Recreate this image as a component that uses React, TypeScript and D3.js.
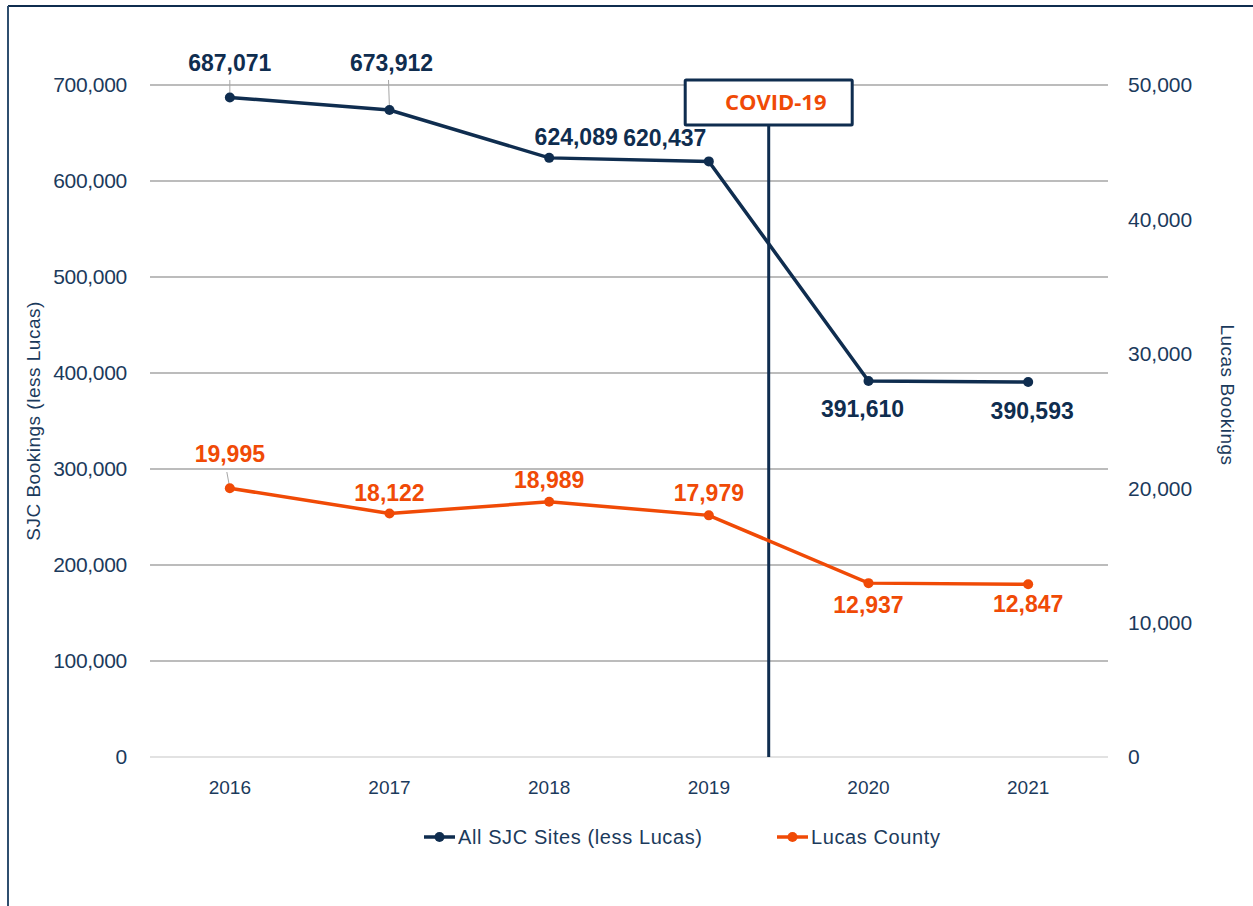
import React from 'react';
import { scaleBand, scaleLinear, line, format } from 'd3';

const years: string[] = ['2016', '2017', '2018', '2019', '2020', '2021'];
const sjcValues: number[] = [687071, 673912, 624089, 620437, 391610, 390593];
const lucasValues: number[] = [19995, 18122, 18989, 17979, 12937, 12847];
const leftTicks: number[] = [0, 100000, 200000, 300000, 400000, 500000, 600000, 700000];
const rightTicks: number[] = [0, 10000, 20000, 30000, 40000, 50000];
const seriesNames: string[] = ['All SJC Sites (less Lucas)', 'Lucas County'];
const covidYear = 2019.375;

// label offsets (dx, baseline dy) relative to each point
const sjcLabelOffsets: [number, number][] = [[0, -27], [2, -40], [27, -13], [-44, -16], [-6, 35], [4, 36]];
const lucasLabelOffsets: [number, number][] = [[0, -27], [0, -13], [0, -14], [0, -15], [0, 29], [0, 27]];

const dims = {
  width: 1253,
  height: 906,
  left: 150,
  right: 1108,
  top: 85,
  bottom: 757,
};

const NAVY = '#0f2d4f';
const ORANGE = '#f04a06';
const TEXT = '#1b3a5c';
const FONT = '"Liberation Sans", Arial, sans-serif';

export default function App() {
  const x = scaleBand<string>().domain(years).range([dims.left, dims.right]);
  const cx = (d: string) => x(d)! + x.bandwidth() / 2;
  const yearX = scaleLinear()
    .domain([2016, 2021])
    .range([cx('2016'), cx('2021')]);
  const yL = scaleLinear().domain([0, 700000]).range([dims.bottom, dims.top]);
  const yR = scaleLinear().domain([0, 50000]).range([dims.bottom, dims.top]);
  const fmt = format(',');

  const sjcLine = line<number>()
    .x((_, i) => cx(years[i]))
    .y(d => yL(d));
  const lucasLine = line<number>()
    .x((_, i) => cx(years[i]))
    .y(d => yR(d));

  const covidX = yearX(covidYear);
  const boxW = 167;
  const boxTop = 80;
  const boxH = 45;

  const legendY = 837;
  const legendItems = [
    { name: seriesNames[0], color: NAVY, x: 424 },
    { name: seriesNames[1], color: ORANGE, x: 777 },
  ];

  return (
    <svg
      width={dims.width}
      height={dims.height}
      style={{ position: 'absolute', left: 0, top: 0, background: '#fff' }}
      fontFamily={FONT}
    >
      {/* frame */}
      <line x1={8} x2={dims.width} y1={6} y2={6} stroke={NAVY} strokeWidth={2} />
      <line x1={8} x2={8} y1={6} y2={dims.height} stroke="#2f4f6f" strokeWidth={2} />

      {/* gridlines */}
      {leftTicks.map(t => (
        <line
          key={t}
          x1={dims.left}
          x2={dims.right}
          y1={yL(t)}
          y2={yL(t)}
          stroke={t === 0 ? '#d9d9d9' : '#a6a6a6'}
          strokeWidth={1.3}
        />
      ))}

      {/* left axis labels */}
      {leftTicks.map(t => (
        <text key={t} x={127} y={yL(t)} dy="0.35em" textAnchor="end" fontSize={21} letterSpacing={-0.3} fill={TEXT}>
          {fmt(t)}
        </text>
      ))}
      {/* right axis labels */}
      {rightTicks.map(t => (
        <text key={t} x={1128} y={yR(t)} dy="0.35em" textAnchor="start" fontSize={21} fill={TEXT}>
          {fmt(t)}
        </text>
      ))}

      <text
        transform={`translate(33, ${(dims.top + dims.bottom) / 2}) rotate(-90)`}
        textAnchor="middle"
        dy="0.35em"
        fontSize={19}
        fill={TEXT}
        letterSpacing={0.5}
      >
        SJC Bookings (less Lucas)
      </text>
      <text
        transform={`translate(1228, 395) rotate(90)`}
        textAnchor="middle"
        dy="0.35em"
        fontSize={19}
        fill={TEXT}
        letterSpacing={0.5}
      >
        Lucas Bookings
      </text>

      {/* x labels */}
      {years.map(yv => (
        <text key={yv} x={cx(yv)} y={787} dy="0.35em" textAnchor="middle" fontSize={19} fill={TEXT}>
          {yv}
        </text>
      ))}

      {/* covid marker */}
      <line x1={covidX} x2={covidX} y1={boxTop + boxH} y2={dims.bottom} stroke={NAVY} strokeWidth={3} />
      <rect
        x={covidX - boxW / 2}
        y={boxTop}
        width={boxW}
        height={boxH}
        fill="#fff"
        stroke={NAVY}
        strokeWidth={3}
        rx={1}
      />
      <text
        x={covidX + 7}
        y={boxTop + boxH / 2}
        dy="0.35em"
        textAnchor="middle"
        fontSize={22}
        fontWeight="bold"
        fill={ORANGE}
        fontFamily='"Open Sans", "Noto Sans", sans-serif'
      >
        COVID-19
      </text>

      {/* leader lines */}
      <line x1={cx('2016')} x2={cx('2016')} y1={80} y2={yL(sjcValues[0])} stroke="#a6a6a6" strokeWidth={1} />
      <line x1={cx('2017') - 1} x2={cx('2017')} y1={80} y2={yL(sjcValues[1])} stroke="#a6a6a6" strokeWidth={1} />
      <line x1={cx('2016') - 3} x2={cx('2016')} y1={472} y2={yR(lucasValues[0])} stroke="#a6a6a6" strokeWidth={1} />

      {/* series */}
      <path d={sjcLine(sjcValues)!} fill="none" stroke={NAVY} strokeWidth={3.5} />
      <path d={lucasLine(lucasValues)!} fill="none" stroke={ORANGE} strokeWidth={3.5} />
      {sjcValues.map((v, i) => (
        <circle key={i} cx={cx(years[i])} cy={yL(v)} r={5} fill={NAVY} />
      ))}
      {lucasValues.map((v, i) => (
        <circle key={i} cx={cx(years[i])} cy={yR(v)} r={5} fill={ORANGE} />
      ))}

      {/* data labels */}
      {sjcValues.map((v, i) => (
        <text
          key={i}
          x={cx(years[i]) + sjcLabelOffsets[i][0]}
          y={yL(v) + sjcLabelOffsets[i][1] + 0.5}
          textAnchor="middle"
          fontSize={23}
          fontWeight="bold"
          fill={NAVY}
        >
          {fmt(v)}
        </text>
      ))}
      {lucasValues.map((v, i) => (
        <text
          key={i}
          x={cx(years[i]) + lucasLabelOffsets[i][0]}
          y={yR(v) + lucasLabelOffsets[i][1] + 0.5}
          textAnchor="middle"
          fontSize={23}
          fontWeight="bold"
          fill={ORANGE}
        >
          {fmt(v)}
        </text>
      ))}

      {/* legend */}
      {legendItems.map(item => (
        <g key={item.name}>
          <line x1={item.x} x2={item.x + 31} y1={legendY} y2={legendY} stroke={item.color} strokeWidth={3.5} />
          <circle cx={item.x + 15.5} cy={legendY} r={5} fill={item.color} />
          <text x={item.x + 34} y={legendY} dy="0.35em" fontSize={20} fill={TEXT} letterSpacing={0.6}>
            {item.name}
          </text>
        </g>
      ))}
    </svg>
  );
}
